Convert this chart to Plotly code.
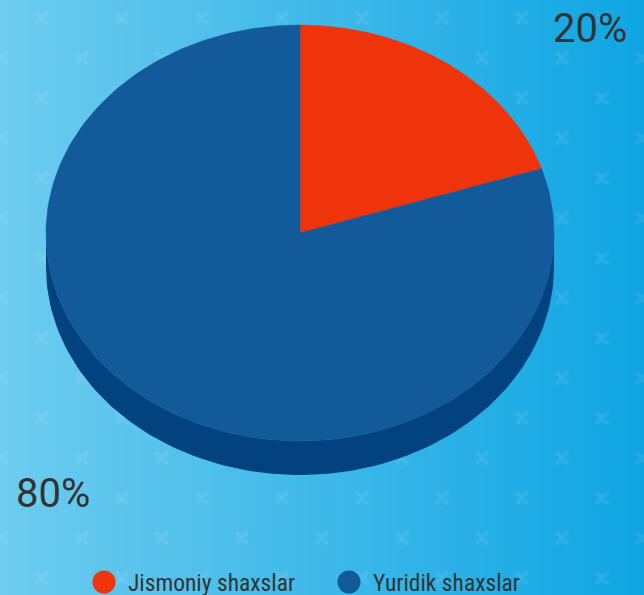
import numpy as np
import plotly.graph_objects as go

# ---- data ----
categories = ["Jismoniy shaxslar", "Yuridik shaxslar"]
values = [20, 80]
top_colors = ["#ef340c", "#125a99"]
side_colors = ["#b3270a", "#02437f"]

W, H = 644, 595
cx, cy, rx, ry, depth = 300, 233, 254, 208, 34

fig = go.Figure()

# ---- background gradient ----
c0 = np.array([0x6e, 0xcc, 0xef])
c1 = np.array([0x0f, 0xa5, 0xe3])
shapes = []
step = 4
for x0 in range(0, W, step):
    t = (x0 + step / 2) / W
    c = (c0 + (c1 - c0) * t).round().astype(int)
    shapes.append(dict(type="rect", xref="x", yref="y", x0=x0, x1=x0 + step + 0.5,
                       y0=0, y1=H, line=dict(width=0),
                       fillcolor="rgb(%d,%d,%d)" % tuple(c), layer="below"))

# ---- x pattern ----
px, py = [], []
for k in range(-1, 10):
    for m in range(-1, 9):
        px += [42 + 80 * k, 2 + 80 * k]
        py += [18 + 80 * m, 58 + 80 * m]
fig.add_trace(go.Scatter(x=px, y=py, mode="markers", hoverinfo="skip", showlegend=False,
                         marker=dict(symbol="x-thin", size=12,
                                     line=dict(width=4, color="rgba(255,255,255,0.08)"))))

# ---- pie geometry ----
total = sum(values)
angles = np.cumsum([0] + [v / total * 360 for v in values])

def top_pt(a, dy=0):
    r = np.radians(a)
    return cx + rx * np.sin(r), cy - ry * np.cos(r) + dy

# sides (front half only: 90..270 deg clockwise from top)
for i, v in enumerate(values):
    s, e = max(angles[i], 90), min(angles[i + 1], 270)
    if e <= s:
        continue
    a = np.linspace(s, e, 120)
    xt, yt = top_pt(a)
    xb, yb = top_pt(a[::-1], depth)
    fig.add_trace(go.Scatter(x=np.r_[xt, xb], y=np.r_[yt, yb], fill="toself", mode="lines",
                             line=dict(width=0, color=side_colors[i]), fillcolor=side_colors[i],
                             hoverinfo="skip", showlegend=False))

# top faces
for i, v in enumerate(values):
    a = np.linspace(angles[i], angles[i + 1], 240)
    xt, yt = top_pt(a)
    fig.add_trace(go.Scatter(x=np.r_[cx, xt, cx], y=np.r_[cy, yt, cy], fill="toself", mode="lines",
                             line=dict(width=0.5, color=top_colors[i]), fillcolor=top_colors[i],
                             name=categories[i], hoverinfo="name", showlegend=False))

# ---- percentage labels ----
label_pos = [(590, 28), (53, 493)]
annotations = []
for i, v in enumerate(values):
    annotations.append(dict(x=label_pos[i][0], y=label_pos[i][1], xref="x", yref="y",
                            text="%d%%" % round(v / total * 100), showarrow=False,
                            font=dict(family="Roboto", size=40, color="#333333"),
                            xanchor="center", yanchor="middle"))

# ---- legend (manual) ----
leg_x = [104, 349]
leg_y = 582
fig.add_trace(go.Scatter(x=leg_x, y=[leg_y] * 2, mode="markers", hoverinfo="skip", showlegend=False,
                         marker=dict(size=23, color=top_colors, line=dict(width=0))))
for i, name in enumerate(categories):
    annotations.append(dict(x=leg_x[i] + 22, y=leg_y + 1, xref="x", yref="y", text=name,
                            showarrow=False, xanchor="left", yanchor="middle",
                            font=dict(family="Roboto Condensed, Liberation Sans Narrow, Roboto",
                                      size=23.5, color="#333333")))

fig.update_layout(
    width=W, height=H, margin=dict(l=0, r=0, t=0, b=0),
    paper_bgcolor="#3fb8ea", plot_bgcolor="rgba(0,0,0,0)",
    xaxis=dict(range=[0, W], visible=False, fixedrange=True),
    yaxis=dict(range=[H, 0], visible=False, fixedrange=True),
    shapes=shapes, annotations=annotations, showlegend=False,
)

fig.write_html("out.html", config={"displayModeBar": False},
               post_script="document.body.style.margin='0';document.body.style.overflow='hidden';")
